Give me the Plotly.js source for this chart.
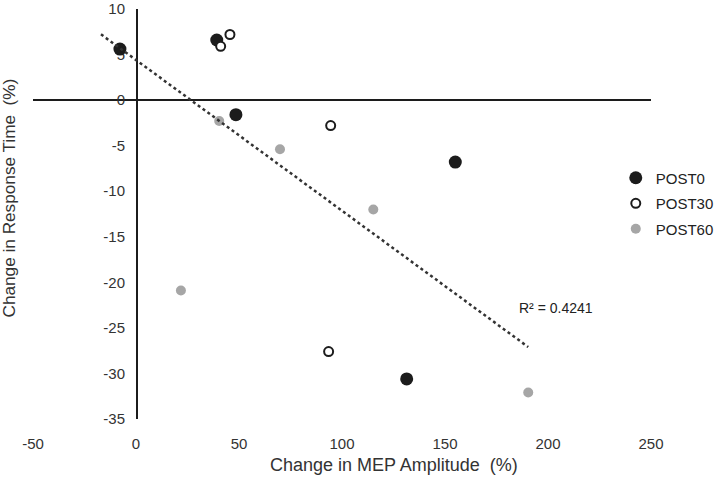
<!DOCTYPE html>
<html>
<head>
<meta charset="utf-8">
<script src="https://cdn.plot.ly/plotly-3.0.1.min.js"></script>
<style>html,body{margin:0;padding:0;background:#fff;}#chart{width:717px;height:478px;}</style>
</head>
<body>
<div id="chart"></div>
<script>
// ---- data ----
const post0X  = [-7.8, 39.2, 48.5, 155.0, 131.4];
const post0Y  = [5.6, 6.6, -1.6, -6.8, -30.6];
const post30X = [45.6, 41.1, 94.5, 93.5];
const post30Y = [7.2, 5.9, -2.8, -27.6];
const post60X = [40.4, 69.9, 115.2, 21.8, 190.4];
const post60Y = [-2.3, -5.4, -12.0, -20.9, -32.1];
const seriesNames = ["POST0", "POST30", "POST60"];
const xTicks = [-50, 0, 50, 100, 150, 200, 250];
const yTicks = [10, 5, 0, -5, -10, -15, -20, -25, -30, -35];
const xTitle = "Change in MEP Amplitude\u00a0\u00a0(%)";
const yTitle = "Change in Response Time\u00a0\u00a0(%)";
const r2Label = "R² = 0.4241";
const trendStartX = -17;   // trendline drawn with a backward forecast

// ---- linear least-squares trendline over all points ----
const allX = post0X.concat(post30X, post60X);
const allY = post0Y.concat(post30Y, post60Y);
const n = allX.length;
const mx = allX.reduce((a,b)=>a+b,0)/n;
const my = allY.reduce((a,b)=>a+b,0)/n;
let sxy = 0, sxx = 0;
for (let i=0;i<n;i++){ sxy += (allX[i]-mx)*(allY[i]-my); sxx += (allX[i]-mx)**2; }
const slope = sxy/sxx, intercept = my - slope*mx;
const trendX = [trendStartX, Math.max(...allX)];
const trendY = trendX.map(x => intercept + slope*x);

const xRange = [xTicks[0], xTicks[xTicks.length-1]];
const yRange = [yTicks[yTicks.length-1], yTicks[0]];
const FONT = "Liberation Sans, Arial, sans-serif";

const traces = [
  {x: post0X, y: post0Y, name: seriesNames[0], legendgroup: "a", type: "scatter", mode: "markers",
   marker: {size: 13, color: "#1c1c1c"}},
  {x: post30X, y: post30Y, name: seriesNames[1], legendgroup: "b", type: "scatter", mode: "markers",
   marker: {size: 9, color: "#ffffff", line: {color: "#1c1c1c", width: 2}}},
  {x: post60X, y: post60Y, name: seriesNames[2], legendgroup: "c", type: "scatter", mode: "markers",
   marker: {size: 10, color: "#a6a6a6"}},
  {x: trendX, y: trendY, type: "scatter", mode: "lines", showlegend: false, hoverinfo: "skip",
   line: {color: "#333333", width: 2.5, dash: "dot"}}
];

const layout = {
  width: 717, height: 478,
  margin: {l: 33, r: 66, t: 9, b: 59, autoexpand: false},
  paper_bgcolor: "#ffffff", plot_bgcolor: "#ffffff",
  font: {family: FONT, size: 15, color: "#333333"},
  showlegend: true,
  legend: {x: 0.943, y: 0.628, xanchor: "left", yanchor: "top",
           font: {family: FONT, size: 15, color: "#222222"},
           traceorder: "grouped", tracegroupgap: 3, itemwidth: 30, bgcolor: "rgba(0,0,0,0)"},
  xaxis: {range: xRange, tickvals: xTicks, ticktext: xTicks.map(String),
          showgrid: false, zeroline: false, showline: false, ticks: "",
          ticklabelstandoff: 14, layer: "below traces",
          tickfont: {family: FONT, size: 15, color: "#333333"}},
  yaxis: {range: yRange, tickvals: yTicks, ticktext: yTicks.map(String),
          anchor: "free", position: (0 - xRange[0])/(xRange[1]-xRange[0]),
          showgrid: false, showline: true, linecolor: "#1c1c1c", linewidth: 1.5,
          zeroline: true, zerolinecolor: "#1c1c1c", zerolinewidth: 1.5,
          ticks: "", ticklabelstandoff: 8, layer: "below traces",
          tickfont: {family: FONT, size: 15, color: "#333333"}},
  annotations: [
    {x: 204, y: -22.8, xref: "x", yref: "y", text: r2Label, showarrow: false,
     font: {family: FONT, size: 14, color: "#222222"}},
    {x: 0.5835, y: -0.112, xref: "paper", yref: "paper", text: xTitle,
     showarrow: false, xanchor: "center", yanchor: "middle",
     font: {family: FONT, size: 18, color: "#333333"}},
    {x: -0.039, y: 0.54, xref: "paper", yref: "paper", text: yTitle, textangle: -90,
     showarrow: false, xanchor: "center", yanchor: "middle",
     font: {family: FONT, size: 17.2, color: "#333333"}}
  ]
};

Plotly.newPlot("chart", traces, layout, {displayModeBar: false, staticPlot: true});
</script>
</body>
</html>
